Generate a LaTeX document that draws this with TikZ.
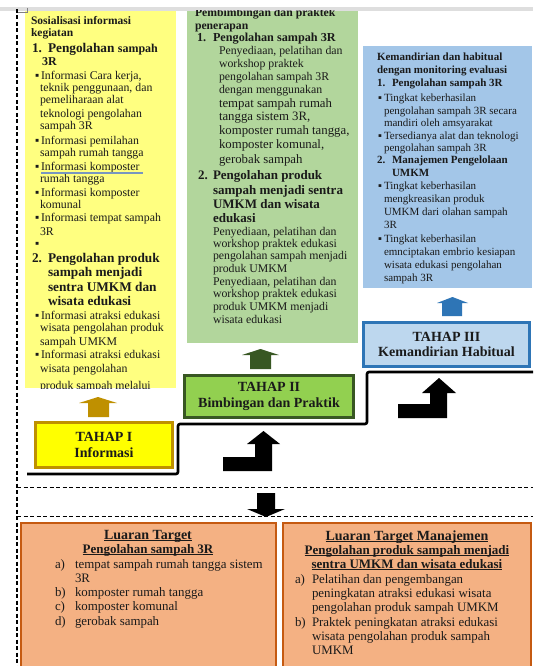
\documentclass[tikz,border=0pt]{standalone}
\usepackage{fontspec}
\setmainfont{Liberation Serif}
\definecolor{ink}{HTML}{1A1A1A}
\definecolor{ylbox}{HTML}{FFFF80}
\definecolor{gnbox}{HTML}{B2D69C}
\definecolor{blbox}{HTML}{A3C6E8}
\definecolor{tonefill}{HTML}{FFFF00}
\definecolor{tonedraw}{HTML}{BF9000}
\definecolor{ttwofill}{HTML}{92D050}
\definecolor{ttwodraw}{HTML}{385723}
\definecolor{tthrfill}{HTML}{BDD7EE}
\definecolor{tthrdraw}{HTML}{2E75B6}
\definecolor{outfill}{HTML}{F4B183}
\definecolor{outdraw}{HTML}{C55A11}
\definecolor{barcol}{HTML}{DEDEDE}
\definecolor{spellcol}{HTML}{7896C0}
\newcommand\fs[1]{\fontsize{#1}{#1}\selectfont}
\newcommand\uln[1]{\setbox0\hbox{#1}\rlap{\rule[-1.8pt]{\wd0}{0.9pt}}\box0}
\newcounter{lnc}
\newcommand\Ln[4][]{\stepcounter{lnc}\node[tline,#1] (t\arabic{lnc}) at (#2,#3) {#4};}
\tikzset{
 tline/.style={anchor=mid west, inner sep=0pt, outer sep=0pt, text=ink},
 yhd/.style={font=\fs{11.5}\bfseries},
 yit/.style={font=\fs{13.3}\bfseries},
 ybd/.style={font=\fs{11.8}},
 ghd/.style={font=\fs{11.7}\bfseries},
 git/.style={font=\fs{12.2}\bfseries},
 gittwo/.style={font=\fs{13}\bfseries},
 gbd/.style={font=\fs{11.8}},
 gbl/.style={font=\fs{12.8}},
 bhd/.style={font=\fs{11}\bfseries},
 bbd/.style={font=\fs{11}},
 ohd/.style={anchor=mid, font=\fs{14}\bfseries},
 ohtwo/.style={anchor=mid, font=\fs{13}\bfseries},
 obd/.style={font=\fs{12.9}},
 bigbox/.style={inner sep=0pt, outer sep=0pt, draw=none},
 stagebox/.style={inner sep=0pt, line width=2.6pt, align=center, text=ink,
   font=\fontsize{14}{15.5}\selectfont\bfseries},
 outbox/.style={inner sep=0pt, fill=outfill, draw=outdraw, line width=2.4pt},
 stair/.style={line width=2.6pt, rounded corners=2pt, black},
 dashline/.style={line width=1.2pt, dash pattern=on 4pt off 2.5pt, black},
}
\begin{document}
\begin{tikzpicture}[x=1pt,y=-1pt]
\useasboundingbox (0,0) rectangle (533,666);
\fill[white] (0,0) rectangle (533,666);

% big content boxes
\node[bigbox, fill=ylbox, minimum width=151pt, minimum height=377pt] (yel) at (100.5,199.5) {};
\node[bigbox, fill=gnbox, minimum width=171pt, minimum height=332pt] (grn) at (272.5,177) {};
\node[bigbox, fill=blbox, minimum width=169pt, minimum height=242pt] (blu) at (447.5,167) {};

% top bar
\fill[barcol] (0,7) rectangle (533,11);
\draw[gray, line width=0.6pt] (17,12) -- (27,12) -- (27,8);

% dashed frame
\draw[dashline] (17,9) -- (17,666);
\draw[dashline, line width=0.9pt] (17,487) -- (533,487);
\draw[dashline, line width=0.9pt] (17,516) -- (533,516);

% yellow box text
\begin{scope}
\clip (25,11) rectangle (176,388);
\Ln[yhd]{31}{22}{Sosialisasi informasi}
\Ln[yhd]{31}{34}{kegiatan}
\Ln[yit]{32}{50}{1.}
\Ln[yit]{48}{50}{Pengolahan {\fs{12}sampah}}
\Ln[yit]{42}{63}{{\fs{12}3R}}
\Ln[ybd]{35}{77}{▪}\Ln[ybd]{41}{77}{Informasi Cara kerja,}
\Ln[ybd]{40}{89}{teknik penggunaan, dan}
\Ln[ybd]{40}{101}{pemeliharaan alat}
\Ln[ybd]{40}{115}{teknologi pengolahan}
\Ln[ybd]{40}{127}{sampah 3R}
\Ln[ybd]{35}{142}{▪}\Ln[ybd]{41}{142}{Informasi pemilahan}
\Ln[ybd]{40}{154}{sampah rumah tangga}
\Ln[ybd]{35}{168}{▪}\Ln[ybd]{41}{168}{Informasi komposter}
\Ln[ybd]{40}{180}{rumah tangga}
\Ln[ybd]{35}{194}{▪}\Ln[ybd]{41}{194}{Informasi komposter}
\Ln[ybd]{40}{206}{komunal}
\Ln[ybd]{35}{219}{▪}\Ln[ybd]{41}{219}{Informasi tempat sampah}
\Ln[ybd]{40}{233}{3R}
\Ln[ybd]{35}{245}{▪}
\Ln[yit]{32}{260}{2.}
\Ln[yit]{48}{260}{Pengolahan produk}
\Ln[yit]{48}{274}{sampah menjadi}
\Ln[yit]{48}{289}{sentra UMKM dan}
\Ln[yit]{48}{303}{wisata edukasi}
\Ln[ybd]{35}{317}{▪}\Ln[ybd]{41}{317}{Informasi atraksi edukasi}
\Ln[ybd]{40}{329}{wisata pengolahan produk}
\Ln[ybd]{40}{343}{sampah UMKM}
\Ln[ybd]{35}{356}{▪}\Ln[ybd]{41}{356}{Informasi atraksi edukasi}
\Ln[ybd]{40}{370}{wisata pengolahan}
\Ln[ybd]{40}{387}{produk sampah melalui}
\end{scope}
\draw[spellcol, line width=1.2pt] (41,173) -- (143,173);

% green box text
\begin{scope}
\clip (187,11) rectangle (358,343);
\Ln[ghd]{195}{14}{Pembimbingan dan praktek}
\Ln[ghd]{195}{27}{penerapan}
\Ln[git]{197}{39}{1.}
\Ln[git]{213}{39}{Pengolahan sampah 3R}
\Ln[gbd]{219}{52}{Penyediaan, pelatihan dan}
\Ln[gbd]{219}{65}{workshop praktek}
\Ln[gbd]{219}{78}{pengolahan sampah 3R}
\Ln[gbd]{219}{91}{dengan menggunakan}
\Ln[gbl]{219}{105}{tempat sampah rumah}
\Ln[gbl]{219}{118}{tangga sistem 3R,}
\Ln[gbl]{219}{132}{komposter rumah tangga,}
\Ln[gbl]{219}{146}{komposter komunal,}
\Ln[gbl]{219}{161}{gerobak sampah}
\Ln[gittwo]{198}{177}{2.}
\Ln[gittwo]{213}{177}{Pengolahan produk}
\Ln[gittwo]{213}{192}{sampah menjadi sentra}
\Ln[gittwo]{213}{206}{UMKM dan wisata}
\Ln[gittwo]{213}{220}{edukasi}
\Ln[gbd]{213}{233}{Penyediaan, pelatihan dan}
\Ln[gbd]{213}{245}{workshop praktek edukasi}
\Ln[gbd]{213}{257}{pengolahan sampah menjadi}
\Ln[gbd]{213}{270}{produk UMKM}
\Ln[gbd]{213}{283}{Penyediaan, pelatihan dan}
\Ln[gbd]{213}{295}{workshop praktek edukasi}
\Ln[gbd]{213}{308}{produk UMKM menjadi}
\Ln[gbd]{213}{321}{wisata edukasi}
\end{scope}

% blue box text
\Ln[bhd]{377}{58}{Kemandirian dan habitual}
\Ln[bhd]{377}{71}{dengan monitoring evaluasi}
\Ln[bhd]{377}{84}{1.}
\Ln[bhd]{392}{84}{Pengolahan sampah 3R}
\Ln[bbd]{378}{99}{▪}\Ln[bbd]{384}{99}{Tingkat keberhasilan}
\Ln[bbd]{384}{112}{pengolahan sampah 3R secara}
\Ln[bbd]{384}{124}{mandiri oleh amsyarakat}
\Ln[bbd]{378}{137}{▪}\Ln[bbd]{384}{137}{Tersedianya alat dan teknologi}
\Ln[bbd]{384}{149}{pengolahan sampah 3R}
\Ln[bhd]{377}{161}{2.}
\Ln[bhd]{392}{161}{Manajemen Pengelolaan}
\Ln[bhd]{392}{174}{UMKM}
\Ln[bbd]{378}{187}{▪}\Ln[bbd]{384}{187}{Tingkat keberhasilan}
\Ln[bbd]{384}{200}{mengkreasikan produk}
\Ln[bbd]{384}{213}{UMKM dari olahan sampah}
\Ln[bbd]{384}{226}{3R}
\Ln[bbd]{378}{240}{▪}\Ln[bbd]{384}{240}{Tingkat keberhasilan}
\Ln[bbd]{384}{253}{emnciptakan embrio kesiapan}
\Ln[bbd]{384}{266}{wisata edukasi pengolahan}
\Ln[bbd]{384}{279}{sampah 3R}

% stage boxes
\node[stagebox, fill=tonefill, draw=tonedraw, minimum width=137pt, minimum height=45pt] (tone) at (104,445) {TAHAP I\\Informasi};
\node[stagebox, fill=ttwofill, draw=ttwodraw, minimum width=169pt, minimum height=42pt] (ttwo) at (269,396.5) {TAHAP II\\Bimbingan dan Praktik};
\node[stagebox, fill=tthrfill, draw=tthrdraw, minimum width=166pt, minimum height=44pt] (tthr) at (446.5,344.5) {TAHAP III\\Kemandirian Habitual};

% up arrows from stages to content boxes
\fill[tonedraw] (88,417) -- (88,403) -- (79,403) -- (98,397) -- (117,403) -- (109,403) -- (109,417) -- cycle;
\fill[ttwodraw] (250,369) -- (250,355) -- (242,355) -- (260.5,349) -- (279,355) -- (271,355) -- (271,369) -- cycle;
\fill[tthrdraw] (442,316) -- (442,303) -- (437,303) -- (452.5,297) -- (468,303) -- (462,303) -- (462,316) -- cycle;

% staircase
\draw[stair] (27,474) -- (178,474) -- (178,424) -- (367,424) -- (367,372) -- (533,372);

% bent step arrows
\fill[black] (223,471) -- (272,471) -- (272,444) -- (280,444) -- (263.5,431) -- (247,444) -- (255,444) -- (255,457) -- (223,457) -- cycle;
\fill[black] (398,418) -- (447,418) -- (447,393) -- (456,393) -- (439,378) -- (422,393) -- (430,393) -- (430,404) -- (398,404) -- cycle;

% output boxes
\node[outbox, minimum width=255pt, minimum height=170pt] (oone) at (148.5,608) {};
\node[outbox, minimum width=248pt, minimum height=170pt] (otwo) at (407,608) {};

% down arrow
\fill[black] (257,493) -- (275,493) -- (275,509) -- (285,509) -- (266,517) -- (247,509) -- (257,509) -- cycle;

% output texts
\Ln[ohd]{148}{537}{\uln{Luaran Target}}
\Ln[ohtwo]{148}{551}{\uln{Pengolahan sampah 3R}}
\Ln[obd]{55}{566}{a)}\Ln[obd]{75}{566}{tempat sampah rumah tangga sistem}
\Ln[obd]{75}{580}{3R}
\Ln[obd]{55}{594}{b)}\Ln[obd]{75}{594}{komposter rumah tangga}
\Ln[obd]{55}{608}{c)}\Ln[obd]{75}{608}{komposter komunal}
\Ln[obd]{55}{623}{d)}\Ln[obd]{75}{623}{gerobak sampah}

\Ln[ohd]{407}{538}{\uln{Luaran Target Manajemen}}
\Ln[ohtwo]{407}{552}{\uln{Pengolahan produk sampah menjadi}}
\Ln[ohtwo]{407}{566}{\uln{sentra UMKM dan wisata edukasi}}
\Ln[obd]{295}{581}{a)}\Ln[obd]{312}{581}{Pelatihan dan pengembangan}
\Ln[obd]{312}{595}{peningkatan atraksi edukasi wisata}
\Ln[obd]{312}{609}{pengolahan produk sampah UMKM}
\Ln[obd]{295}{624}{b)}\Ln[obd]{312}{624}{Praktek peningkatan atraksi edukasi}
\Ln[obd]{312}{638}{wisata pengolahan produk sampah}
\Ln[obd]{312}{652}{UMKM}
\end{tikzpicture}
\end{document}
